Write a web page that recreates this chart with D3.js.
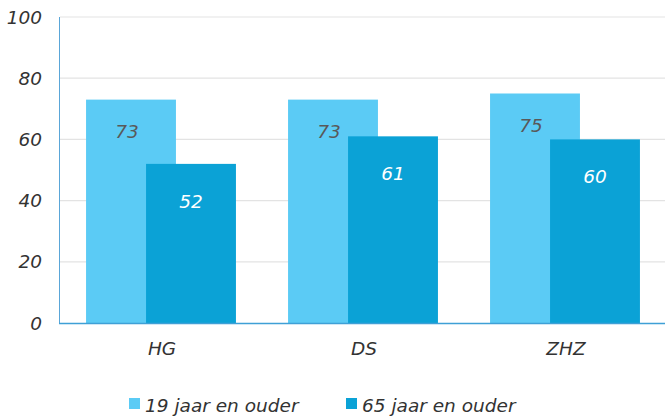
<!DOCTYPE html>
<html>
<head>
<meta charset="utf-8">
<script src="https://cdn.jsdelivr.net/npm/d3@7"></script>
<style>
  body { margin: 0; background: #fff; }
  text { font-family: "DejaVu Sans", Verdana, sans-serif; font-style: italic; }
</style>
</head>
<body>
<svg width="665" height="417"></svg>
<script>
// Data
var categories = ['HG', 'DS', 'ZHZ'];
var seriesNames = ['19 jaar en ouder', '65 jaar en ouder'];
var values19 = [73, 73, 75];
var values65 = [52, 61, 60];
var yTicks = [0, 20, 40, 60, 80, 100];

var colors = ['#5bcbf5', '#0ba2d6'];
var labelColors = ['#595959', '#ffffff'];
var labelDrop = [32, 37];
var fontSize = '18.5px';

var svg = d3.select('svg');
var padding = {t: 17, l: 60};
var plotRight = 665;
var plotBottom = 323;

var rows = categories.map(function(c, i) {
    return {cat: c, vals: [values19[i], values65[i]]};
});

var xScale = d3.scaleBand().domain(categories).range([padding.l, 666]);
var barOffset = d3.scalePoint().domain(seriesNames).range([-30, 30]);
var barWidth = xScale.bandwidth() * 0.445;
var yScale = d3.scaleLinear().domain([0, 100]).range([plotBottom, padding.t]);

// Gridlines
svg.append('g').selectAll('line')
    .data(yTicks.slice(1))
    .enter().append('line')
    .attr('x1', padding.l).attr('x2', plotRight)
    .attr('y1', function(d) { return yScale(d); })
    .attr('y2', function(d) { return yScale(d); })
    .attr('stroke', '#e3e3e3')
    .attr('stroke-width', 1.2);

// Y tick labels
svg.append('g').selectAll('text')
    .data(yTicks)
    .enter().append('text')
    .attr('x', 42)
    .attr('y', function(d) { return yScale(d); })
    .attr('dy', '0.36em')
    .attr('text-anchor', 'end')
    .attr('fill', '#333')
    .style('font-size', fontSize)
    .text(function(d) { return d; });

// Bars
var groups = svg.append('g').selectAll('g')
    .data(rows)
    .enter().append('g')
    .attr('transform', function(d) {
        return 'translate(' + (xScale(d.cat) + xScale.bandwidth() / 2) + ',0)';
    });

seriesNames.forEach(function(s, si) {
    groups.append('rect')
        .attr('x', barOffset(s) - barWidth / 2)
        .attr('width', barWidth)
        .attr('y', function(d) { return yScale(d.vals[si]); })
        .attr('height', function(d) { return plotBottom - yScale(d.vals[si]); })
        .attr('fill', colors[si]);
});

seriesNames.forEach(function(s, si) {
    groups.append('text')
        .attr('x', barOffset(s) - (si === 0 ? 4 : 0))
        .attr('y', function(d) { return yScale(d.vals[si]) + labelDrop[si]; })
        .attr('dy', '0.36em')
        .attr('text-anchor', 'middle')
        .attr('fill', labelColors[si])
        .style('font-size', fontSize)
        .text(function(d) { return d.vals[si]; });
});

// Axes lines
svg.append('line')
    .attr('x1', padding.l - 0.5).attr('x2', padding.l - 0.5)
    .attr('y1', padding.t).attr('y2', plotBottom)
    .attr('stroke', '#5aa6d8').attr('stroke-width', 1);
svg.append('line')
    .attr('x1', padding.l - 1).attr('x2', plotRight)
    .attr('y1', plotBottom + 0.5).attr('y2', plotBottom + 0.5)
    .attr('stroke', '#3fa0d6').attr('stroke-width', 1.5);

// Category labels
svg.append('g').selectAll('text')
    .data(categories)
    .enter().append('text')
    .attr('x', function(d) { return xScale(d) + xScale.bandwidth() / 2 + 1; })
    .attr('y', 355)
    .attr('text-anchor', 'middle')
    .attr('fill', '#333')
    .style('font-size', fontSize)
    .text(function(d) { return d; });

// Legend
var legendX = [129, 346];
var legend = svg.append('g').selectAll('g')
    .data(seriesNames)
    .enter().append('g')
    .attr('transform', function(d, i) { return 'translate(' + legendX[i] + ',398)'; });
legend.append('rect')
    .attr('width', 11).attr('height', 11)
    .attr('fill', function(d, i) { return colors[i]; });
legend.append('text')
    .attr('x', 16).attr('y', 14)
    .attr('fill', '#333')
    .style('font-size', fontSize)
    .text(function(d) { return d; });
</script>
</body>
</html>
